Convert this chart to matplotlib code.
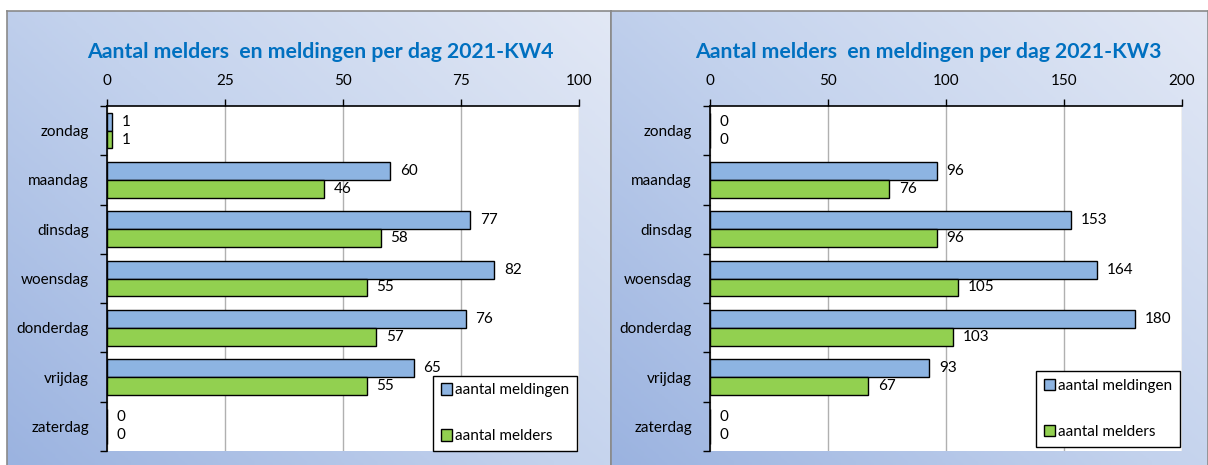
import numpy as np
import matplotlib.pyplot as plt
from matplotlib.colors import LinearSegmentedColormap

plt.rcParams['font.family'] = ['Lato', 'DejaVu Sans']

# data
dagen = ["zondag", "maandag", "dinsdag", "woensdag", "donderdag", "vrijdag", "zaterdag"]
kw4_meldingen = [1, 60, 77, 82, 76, 65, 0]
kw4_melders = [1, 46, 58, 55, 57, 55, 0]
kw3_meldingen = [0, 96, 153, 164, 180, 93, 0]
kw3_melders = [0, 76, 96, 105, 103, 67, 0]

W, H = 1208, 465
fig = plt.figure(figsize=(W / 100, H / 100), dpi=100)

blauw = "#8db4e2"
groen = "#92d050"
titelkleur = "#0070c0"
grad = LinearSegmentedColormap.from_list("g", ["#9bb3e0", "#c3d2ed", "#e2e8f5"])


def paneel(x0, x1):
    # achtergrond met kleurverloop
    bg = fig.add_axes([x0 / W, 0, (x1 - x0) / W, (H - 11) / H], zorder=0)
    xx, yy = np.meshgrid(np.linspace(0, 1, 200), np.linspace(0, 1, 200))
    bg.imshow(xx * 0.55 + yy * 0.45, cmap=grad, origin="lower", aspect="auto",
              extent=(0, 1, 0, 1))
    bg.set_xlim(0, 1)
    bg.set_ylim(0, 1)
    bg.set_xticks([])
    bg.set_yticks([])
    bg.spines["bottom"].set_visible(False)
    for s in ["top", "left", "right"]:
        bg.spines[s].set_color("#8a8a8a")
        bg.spines[s].set_linewidth(1.2)
    return bg


def grafiek(px0, px1, meldingen, melders, xmax, step, titel, tx, legbottom):
    ax = fig.add_axes([px0 / W, (H - 451) / H, (px1 - px0) / W, 345 / H], zorder=2)
    y = np.arange(len(dagen))
    h = 0.36
    b1 = ax.barh(y - h / 2, meldingen, height=h, color=blauw, edgecolor="black",
                 linewidth=1, label="aantal meldingen", zorder=3)
    b2 = ax.barh(y + h / 2, melders, height=h, color=groen, edgecolor="black",
                 linewidth=1, label="aantal melders", zorder=3)
    ax.bar_label(b1, padding=7, fontsize=11)
    ax.bar_label(b2, padding=7, fontsize=11)
    ax.set_xlim(0, xmax)
    ax.set_ylim(len(dagen) - 0.5, -0.5)
    ax.set_xticks(np.arange(0, xmax + 1, step))
    ax.xaxis.tick_top()
    ax.tick_params(axis="x", length=5, pad=8, labelsize=11, width=1)
    ax.set_yticks(y)
    ax.set_yticklabels(dagen)
    ax.set_yticks(np.arange(-0.5, len(dagen), 1), minor=True)
    ax.tick_params(axis="y", which="major", length=0, pad=13, labelsize=11)
    ax.tick_params(axis="y", which="minor", length=5, width=1)
    ax.grid(axis="x", color="#b0b0b0", linewidth=1, zorder=0)
    ax.set_axisbelow(True)
    ax.spines["right"].set_visible(False)
    ax.spines["bottom"].set_visible(False)
    ax.spines["top"].set_linewidth(1.2)
    ax.spines["left"].set_linewidth(1.2)
    leg = ax.legend(loc="lower right", bbox_to_anchor=(0.996, legbottom),
                    borderaxespad=0, fancybox=False, framealpha=1, edgecolor="black",
                    fontsize=11, labelspacing=2.1, handlelength=0.75, handleheight=0.75,
                    handletextpad=0.2, borderpad=0.5)
    leg.get_frame().set_linewidth(1)
    leg.set_zorder(5)
    fig.text(tx / W, 1 - 52 / H, titel, ha="center", va="center", fontsize=15.3,
             fontweight="bold", color=titelkleur)
    return ax


paneel(7, 611)
paneel(611, 1208)
grafiek(107, 579, kw4_meldingen, kw4_melders, 100, 25,
        "Aantal melders  en meldingen per dag 2021-KW4", 320, 0.0)
grafiek(710, 1182, kw3_meldingen, kw3_melders, 200, 50,
        "Aantal melders  en meldingen per dag 2021-KW3", 928, 0.012)

fig.savefig("out.png", dpi=100)
